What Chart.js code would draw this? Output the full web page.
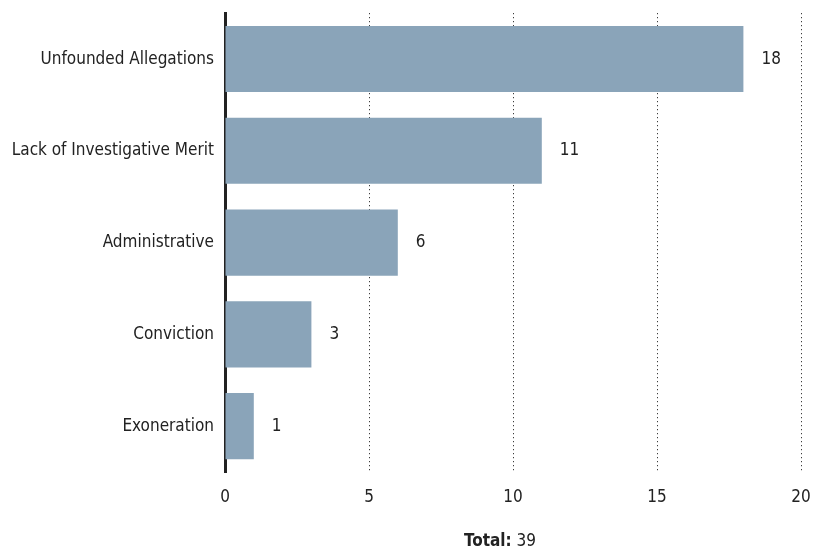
<!DOCTYPE html>
<html>
<head>
<meta charset="utf-8">
<script src="https://cdn.jsdelivr.net/npm/chart.js@4"></script>
<style>
  html, body { margin: 0; padding: 0; background: #fff; }
  #wrap { position: relative; width: 817px; height: 549px; }
  #total {
    position: absolute; left: 0; width: 1000px; top: 530px; text-align: center;
    font-family: "Liberation Sans Narrow", "DejaVu Sans Condensed", sans-serif;
    font-size: 17px; color: #222;
  }
</style>
</head>
<body>
<div id="wrap">
  <canvas id="chart" width="817" height="549"></canvas>
  <div id="total"><b>Total:</b> 39</div>
</div>
<script>
const categories = ["Unfounded Allegations", "Lack of Investigative Merit", "Administrative", "Conviction", "Exoneration"];
const counts = [18, 11, 6, 3, 1];
const xTicks = [0, 5, 10, 15, 20];

const FONT = "'Liberation Sans Narrow', 'DejaVu Sans Condensed', sans-serif";
const TEXT = "#222";

// value labels to the right of each bar
const valueLabels = {
  id: "valueLabels",
  afterDatasetsDraw(chart) {
    const ctx = chart.ctx;
    const meta = chart.getDatasetMeta(0);
    ctx.save();
    ctx.font = "17px " + FONT;
    ctx.fillStyle = TEXT;
    ctx.textBaseline = "middle";
    ctx.textAlign = "left";
    meta.data.forEach((bar, i) => {
      ctx.fillText(String(counts[i]), bar.x + 18, bar.y);
    });
    ctx.restore();
  }
};

new Chart(document.getElementById("chart").getContext("2d"), {
  type: "bar",
  data: {
    labels: categories,
    datasets: [{
      data: counts,
      backgroundColor: "#8aa4b9",
      borderWidth: 0,
      categoryPercentage: 0.72,
      barPercentage: 1
    }]
  },
  options: {
    indexAxis: "y",
    responsive: false,
    animation: false,
    layout: { padding: { top: 4, right: 16, bottom: 0, left: 0 } },
    plugins: { legend: { display: false }, tooltip: { enabled: false } },
    scales: {
      x: {
        min: 0, max: 20,
        afterBuildTicks: s => { s.ticks = xTicks.map(v => ({ value: v })); },
        afterFit: s => { s.height = 77; s.paddingRight = 0; s.paddingLeft = 0; },
        border: { display: false, dash: [1, 3] },
        grid: { color: "#111", lineWidth: 1, drawTicks: false },
        ticks: { font: { family: FONT, size: 17 }, color: TEXT, padding: 15 }
      },
      y: {
        afterFit: s => { s.width = 225; },
        border: { display: true, color: "#222", width: 3 },
        grid: { display: false },
        ticks: { font: { family: FONT, size: 17 }, color: TEXT, padding: 3 }
      }
    }
  },
  plugins: [valueLabels]
});
</script>
</body>
</html>
